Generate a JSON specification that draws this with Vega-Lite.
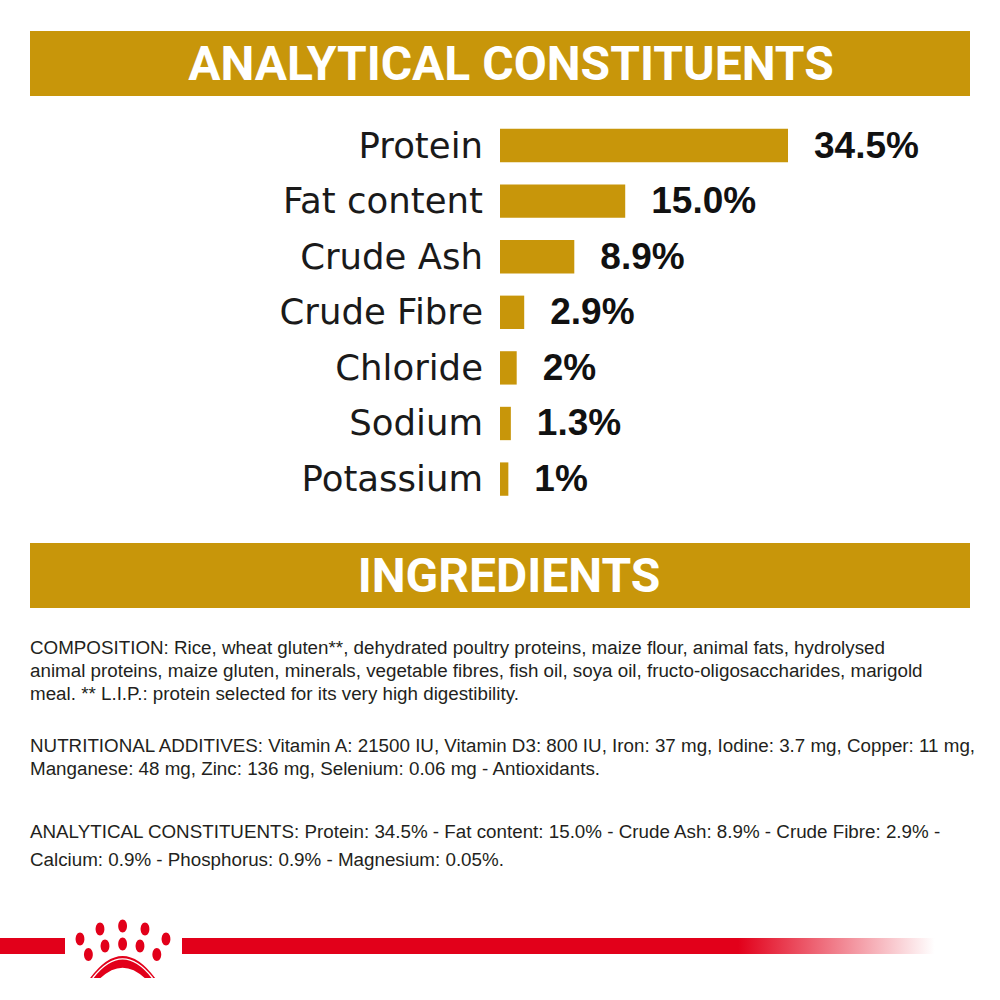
{
  "$schema": "https://vega.github.io/schema/vega-lite/v6.json",
  "background": "white",
  "padding": {"top": 30, "left": 0, "right": 0, "bottom": 0},
  "spacing": 0,
  "config": {"view": {"stroke": null}, "concat": {"spacing": 0}},
  "vconcat": [
    {
      "spacing": 0,
      "hconcat": [
        {
          "width": 30, "height": 10,
          "data": {"values": [{"t": ""}]},
          "mark": {"type": "text"},
          "encoding": {"text": {"field": "t"}}
        },
        {
          "spacing": 0,
          "vconcat": [
            {
              "width": 940, "height": 65,
              "view": {"fill": "#C8960A", "stroke": null},
              "data": {"values": [{"title": "ANALYTICAL CONSTITUENTS"}]},
              "mark": {"type": "text", "font": "Roboto", "fontWeight": "bold", "fontSize": 48, "color": "#FFFFFF", "baseline": "middle", "dx": 11, "dy": 2},
              "encoding": {"text": {"field": "title"}}
            },
            {
              "width": 940, "height": 447,
              "data": {"values": [
                {"nutrient": "Protein", "value": 34.5, "label": "34.5%"},
                {"nutrient": "Fat content", "value": 15.0, "label": "15.0%"},
                {"nutrient": "Crude Ash", "value": 8.9, "label": "8.9%"},
                {"nutrient": "Crude Fibre", "value": 2.9, "label": "2.9%"},
                {"nutrient": "Chloride", "value": 2, "label": "2%"},
                {"nutrient": "Sodium", "value": 1.3, "label": "1.3%"},
                {"nutrient": "Potassium", "value": 1, "label": "1%"}
              ]},
              "encoding": {
                "y": {"field": "nutrient", "type": "nominal", "sort": null, "axis": null,
                      "scale": {"paddingInner": 0.4, "paddingOuter": 0.72, "align": 0.41}}
              },
              "layer": [
                {
                  "mark": {"type": "bar", "color": "#C8960A"},
                  "encoding": {
                    "x": {"field": "value", "type": "quantitative", "axis": null,
                          "scale": {"domain": [-56.3, 56.3], "nice": false, "zero": false}}
                  }
                },
                {
                  "mark": {"type": "text", "align": "right", "baseline": "middle", "dx": -17, "dy": 1, "font": "DejaVu Sans", "fontSize": 35.5, "color": "#1A1A1A"},
                  "encoding": {
                    "x": {"datum": 0, "type": "quantitative"},
                    "text": {"field": "nutrient"}
                  }
                },
                {
                  "mark": {"type": "text", "align": "left", "baseline": "middle", "dx": 26, "dy": 1, "font": "Liberation Sans", "fontWeight": "bold", "fontSize": 37, "color": "#111111"},
                  "encoding": {
                    "x": {"field": "value", "type": "quantitative"},
                    "text": {"field": "label"}
                  }
                }
              ]
            },
            {
              "width": 940, "height": 65,
              "view": {"fill": "#C8960A", "stroke": null},
              "data": {"values": [{"title": "INGREDIENTS"}]},
              "mark": {"type": "text", "font": "Roboto", "fontWeight": "bold", "fontSize": 48, "color": "#FFFFFF", "baseline": "middle", "dx": 9, "dy": 2},
              "encoding": {"text": {"field": "title"}}
            },
            {
              "width": 940, "height": 126,
              "data": {"values": [{"text": "COMPOSITION: Rice, wheat gluten**, dehydrated poultry proteins, maize flour, animal fats, hydrolysed\nanimal proteins, maize gluten, minerals, vegetable fibres, fish oil, soya oil, fructo-oligosaccharides, marigold\nmeal.  ** L.I.P.: protein selected for its very high digestibility."}]},
              "mark": {"type": "text", "align": "left", "baseline": "middle", "lineBreak": "\n", "lineHeight": 23, "dy": -23, "font": "Liberation Sans", "fontSize": 18.8, "color": "#231F20"},
              "encoding": {
                "x": {"datum": 0, "type": "quantitative", "axis": null, "scale": {"domain": [0, 1]}},
                "text": {"field": "text"}
              }
            },
            {
              "width": 940, "height": 47,
              "data": {"values": [{"text": "NUTRITIONAL ADDITIVES: Vitamin A: 21500 IU, Vitamin D3: 800 IU, Iron: 37 mg, Iodine: 3.7 mg, Copper: 11 mg,\nManganese: 48 mg, Zinc: 136 mg, Selenium: 0.06 mg - Antioxidants."}]},
              "mark": {"type": "text", "align": "left", "baseline": "middle", "lineBreak": "\n", "lineHeight": 23, "dy": -11.5, "font": "Liberation Sans", "fontSize": 18.8, "color": "#231F20"},
              "encoding": {
                "x": {"datum": 0, "type": "quantitative", "axis": null, "scale": {"domain": [0, 1]}},
                "text": {"field": "text"}
              }
            },
            {
              "width": 940, "height": 130,
              "data": {"values": [{"text": "ANALYTICAL CONSTITUENTS: Protein: 34.5% - Fat content: 15.0% - Crude Ash: 8.9% - Crude Fibre: 2.9% -\nCalcium: 0.9% - Phosphorus: 0.9% - Magnesium: 0.05%."}]},
              "mark": {"type": "text", "align": "left", "baseline": "middle", "lineBreak": "\n", "lineHeight": 28, "dy": -14, "font": "Liberation Sans", "fontSize": 18.8, "color": "#231F20"},
              "encoding": {
                "x": {"datum": 0, "type": "quantitative", "axis": null, "scale": {"domain": [0, 1]}},
                "text": {"field": "text"}
              }
            }
          ]
        }
      ]
    },
    {
      "spacing": 0,
      "hconcat": [
        {
          "width": 65, "height": 90,
          "data": {"values": [{"band": "line"}]},
          "mark": {"type": "rect", "color": "#E2001A"},
          "encoding": {
            "y": {"field": "band", "type": "nominal", "axis": null,
                  "scale": {"paddingInner": 0.5676, "paddingOuter": 1, "align": 0.365}}
          }
        },
        {
          "width": 117, "height": 90,
          "layer": [
            {
              "data": {"values": [
                {"lx": 15, "ly": 28}, {"lx": 35, "ly": 18}, {"lx": 57.6, "ly": 15}, {"lx": 80, "ly": 18}, {"lx": 101, "ly": 28},
                {"lx": 23.4, "ly": 43.5}, {"lx": 40, "ly": 35}, {"lx": 57.6, "ly": 33}, {"lx": 75, "ly": 35}, {"lx": 91.8, "ly": 43.5}
              ]},
              "mark": {"type": "point", "filled": true, "color": "#E2001A", "opacity": 1, "size": 169,
                       "shape": "M-0.68,0A0.68,1 0 1,1 0.68,0A0.68,1 0 1,1 -0.68,0Z"},
              "encoding": {
                "x": {"field": "lx", "type": "quantitative", "axis": null, "scale": {"domain": [0, 117], "nice": false, "zero": false}},
                "y": {"field": "ly", "type": "quantitative", "axis": null, "scale": {"domain": [90, 0], "nice": false, "zero": false}}
              }
            },
            {
              "data": {"values": [{"lx": 57.6, "ly": 56}]},
              "mark": {"type": "point", "filled": true, "color": "#E2001A", "opacity": 1, "size": 4225,
                       "shape": "M-1,0.34Q0,-1.02 1,0.34L0.68,0.34Q0,-0.3 -0.68,0.34Z"},
              "encoding": {
                "x": {"field": "lx", "type": "quantitative"},
                "y": {"field": "ly", "type": "quantitative"}
              }
            },
            {
              "data": {"values": [{"lx": 57.6, "ly": 56}]},
              "mark": {"type": "point", "filled": false, "stroke": "#FFFFFF", "strokeWidth": 1.4, "opacity": 1, "size": 4225,
                       "shape": "M-0.92,0.34Q0,-0.84 0.92,0.34"},
              "encoding": {
                "x": {"field": "lx", "type": "quantitative"},
                "y": {"field": "ly", "type": "quantitative"}
              }
            }
          ]
        },
        {
          "width": 818, "height": 90,
          "data": {"values": [{"band": "line"}]},
          "mark": {"type": "rect", "color": {"gradient": "linear", "x1": 0, "x2": 1, "y1": 0, "y2": 0,
                   "stops": [{"offset": 0, "color": "#E2001A"}, {"offset": 0.68, "color": "#E2001A"}, {"offset": 0.92, "color": "#FFFFFF"}, {"offset": 1, "color": "#FFFFFF"}]}},
          "encoding": {
            "y": {"field": "band", "type": "nominal", "axis": null,
                  "scale": {"paddingInner": 0.5676, "paddingOuter": 1, "align": 0.365}}
          }
        }
      ]
    }
  ]
}
